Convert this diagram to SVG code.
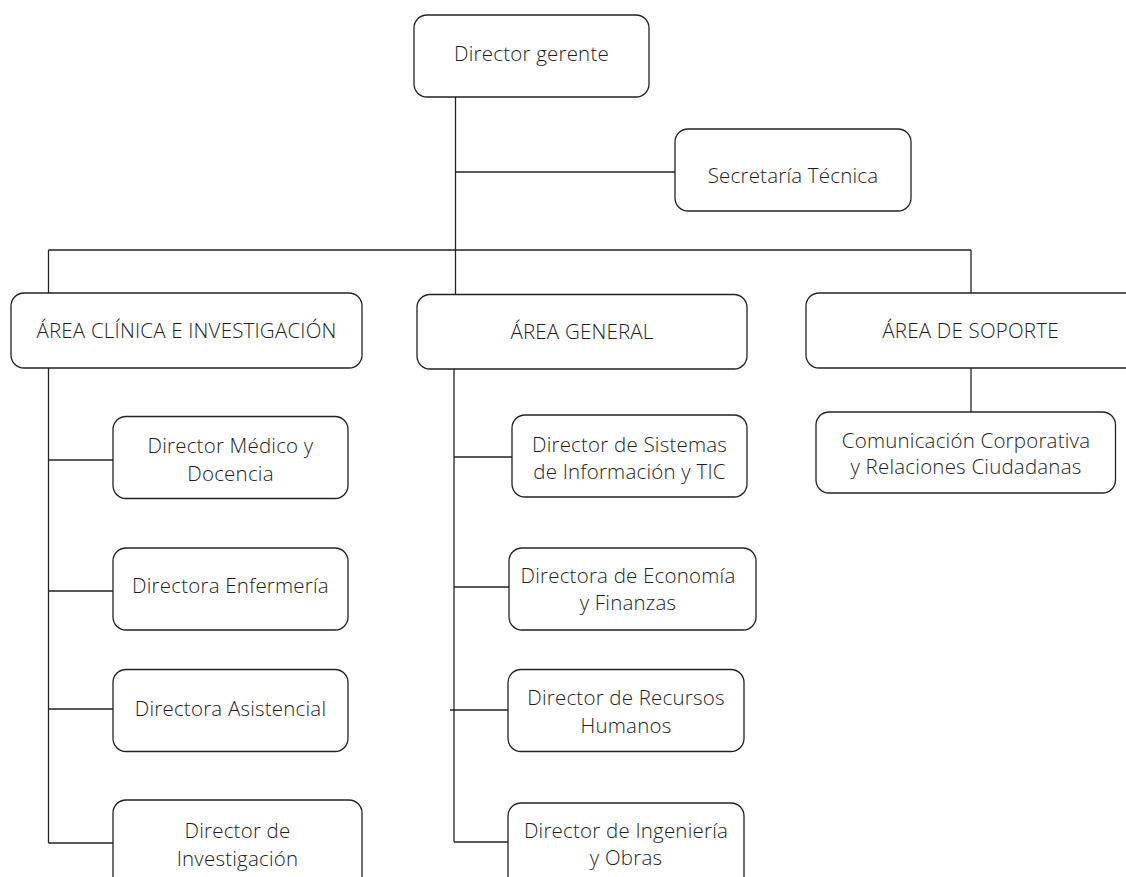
<svg xmlns="http://www.w3.org/2000/svg" width="1126" height="877" viewBox="0 0 1126 877">
<style>
.box{fill:#fff;stroke:#222;stroke-width:1.3}
.t{font-family:"Open Sans","Liberation Sans",sans-serif;font-weight:300;font-size:20.5px;letter-spacing:0.2px;fill:#1e1e1e;text-anchor:middle}
.c{fill:none;stroke:#222;stroke-width:1.3}
</style>
<rect width="1126" height="877" fill="#fff"/>
<g id="connectors" class="c">
<path d="M455.5 97V294"/>
<path d="M455.5 172H675"/>
<path d="M48.5 250H971"/>
<path d="M48.5 250V293"/>
<path d="M971 250V293"/>
<path d="M48.5 368V843"/>
<path d="M48.5 460H113"/>
<path d="M48.5 591H113"/>
<path d="M48.5 709H113"/>
<path d="M48.5 843H113"/>
<path d="M454 369V842"/>
<path d="M454 457H512"/>
<path d="M454 587H509"/>
<path d="M450 710H508"/>
<path d="M454 842H508"/>
<path d="M971 368V412"/>
</g>
<g id="n-director">
<rect class="box" x="414" y="15" width="235" height="82" rx="13"/>
<text class="t" x="531.5" y="61">Director gerente</text>
</g>
<g id="n-secretaria">
<rect class="box" x="675" y="129" width="236" height="82" rx="13"/>
<text class="t" x="793" y="183">Secretaría Técnica</text>
</g>
<g id="n-clinica">
<rect class="box" x="11" y="293" width="351" height="75" rx="13"/>
<text class="t" x="186.5" y="338">ÁREA CLÍNICA E INVESTIGACIÓN</text>
</g>
<g id="n-general">
<rect class="box" x="417" y="294.5" width="330" height="74.5" rx="13"/>
<text class="t" x="582" y="339">ÁREA GENERAL</text>
</g>
<g id="n-soporte">
<rect class="box" x="806" y="293" width="340" height="75" rx="13"/>
<text class="t" x="970.5" y="338">ÁREA DE SOPORTE</text>
</g>
<g id="n-medico">
<rect class="box" x="113" y="416.5" width="235" height="82" rx="13"/>
<text class="t" x="230.5" y="453">Director Médico y</text>
<text class="t" x="230.5" y="481">Docencia</text>
</g>
<g id="n-enfermeria">
<rect class="box" x="113" y="548" width="235" height="82" rx="13"/>
<text class="t" x="230.5" y="593">Directora Enfermería</text>
</g>
<g id="n-asistencial">
<rect class="box" x="113" y="669.5" width="235" height="82" rx="13"/>
<text class="t" x="230.5" y="716">Directora Asistencial</text>
</g>
<g id="n-investigacion">
<rect class="box" x="113" y="800" width="249" height="90" rx="13"/>
<text class="t" x="237.5" y="838">Director de</text>
<text class="t" x="237.5" y="866">Investigación</text>
</g>
<g id="n-sistemas">
<rect class="box" x="512" y="415" width="235" height="82" rx="13"/>
<text class="t" x="629.5" y="452">Director de Sistemas</text>
<text class="t" x="629.5" y="479">de Información y TIC</text>
</g>
<g id="n-economia">
<rect class="box" x="509" y="548" width="247" height="82" rx="13"/>
<text class="t" x="628" y="583">Directora de Economía</text>
<text class="t" x="628" y="610">y Finanzas</text>
</g>
<g id="n-recursos">
<rect class="box" x="508" y="669.5" width="236" height="82" rx="13"/>
<text class="t" x="626" y="705">Director de Recursos</text>
<text class="t" x="626" y="733">Humanos</text>
</g>
<g id="n-ingenieria">
<rect class="box" x="508" y="803" width="236" height="90" rx="13"/>
<text class="t" x="626" y="838">Director de Ingeniería</text>
<text class="t" x="626" y="865">y Obras</text>
</g>
<g id="n-comunicacion">
<rect class="box" x="816" y="412" width="299.5" height="81" rx="13"/>
<text class="t" x="966" y="447.5">Comunicación Corporativa</text>
<text class="t" x="966" y="474">y Relaciones Ciudadanas</text>
</g>
</svg>
